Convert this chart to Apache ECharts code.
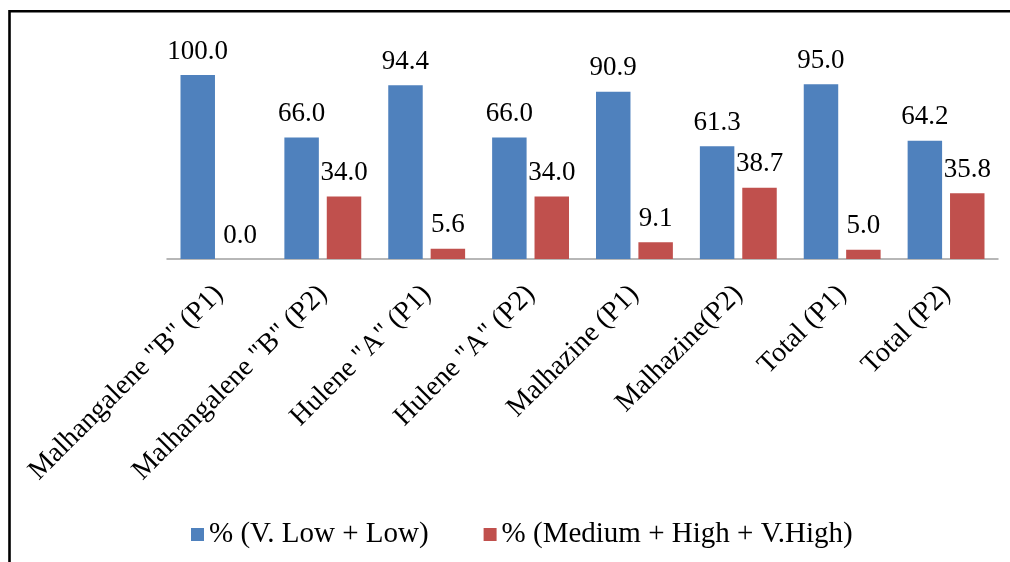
<!DOCTYPE html>
<html>
<head>
<meta charset="utf-8">
<script src="https://cdn.jsdelivr.net/npm/echarts@6/dist/echarts.min.js"></script>
<style>
html,body{margin:0;padding:0;background:#fff;}
#chart{width:1010px;height:562px;}
</style>
</head>
<body>
<div id="chart"></div>
<script>
const categories = ['Malhangalene "B" (P1)', 'Malhangalene "B" (P2)', 'Hulene "A" (P1)', 'Hulene "A" (P2)', 'Malhazine (P1)', 'Malhazine(P2)', 'Total (P1)', 'Total (P2)'];
const seriesNames = ['% (V. Low + Low)', '% (Medium + High + V.High)'];
const lowValues = [100.0, 66.0, 94.4, 66.0, 90.9, 61.3, 95.0, 64.2];
const highValues = [0.0, 34.0, 5.6, 34.0, 9.1, 38.7, 5.0, 35.8];

const FONT = '"Times New Roman", "Liberation Serif", serif';
const chart = echarts.init(document.getElementById('chart'));
const labelCfg = {
  show: true,
  position: 'top',
  distance: 10,
  color: '#000',
  fontFamily: FONT,
  fontSize: 27,
  formatter: p => p.value.toFixed(1)
};
chart.setOption({
  animation: false,
  backgroundColor: '#fff',
  graphic: [{
    type: 'polyline',
    shape: { points: [[9.5, 562], [9.5, 11.3], [1010, 11.3]] },
    style: { stroke: '#000', lineWidth: 2.6, fill: null }
  }],
  legend: {
    left: 186,
    top: 515,
    itemWidth: 13,
    itemHeight: 13,
    itemGap: 55,
    icon: 'rect',
    textStyle: { fontFamily: FONT, fontSize: 29, color: '#000' },
    data: seriesNames
  },
  grid: { left: 167, right: 12, top: 75, bottom: 303, containLabel: false, outerBoundsMode: 'none' },
  xAxis: {
    type: 'category',
    data: categories,
    axisLine: { lineStyle: { color: '#A0A0A0', width: 1.5 } },
    axisTick: { show: false },
    axisLabel: {
      interval: 0,
      rotate: 45,
      margin: 31,
      color: '#000',
      fontFamily: FONT,
      fontSize: 28
    }
  },
  yAxis: {
    type: 'value',
    min: 0,
    max: 100,
    show: false,
    splitLine: { show: false }
  },
  series: [
    {
      name: seriesNames[0],
      type: 'bar',
      data: lowValues,
      barGap: '23%',
      barCategoryGap: '26%',
      itemStyle: { color: '#4F81BD' },
      label: labelCfg
    },
    {
      name: seriesNames[1],
      type: 'bar',
      data: highValues,
      itemStyle: { color: '#C0504D' },
      label: labelCfg
    }
  ]
});
</script>
</body>
</html>
